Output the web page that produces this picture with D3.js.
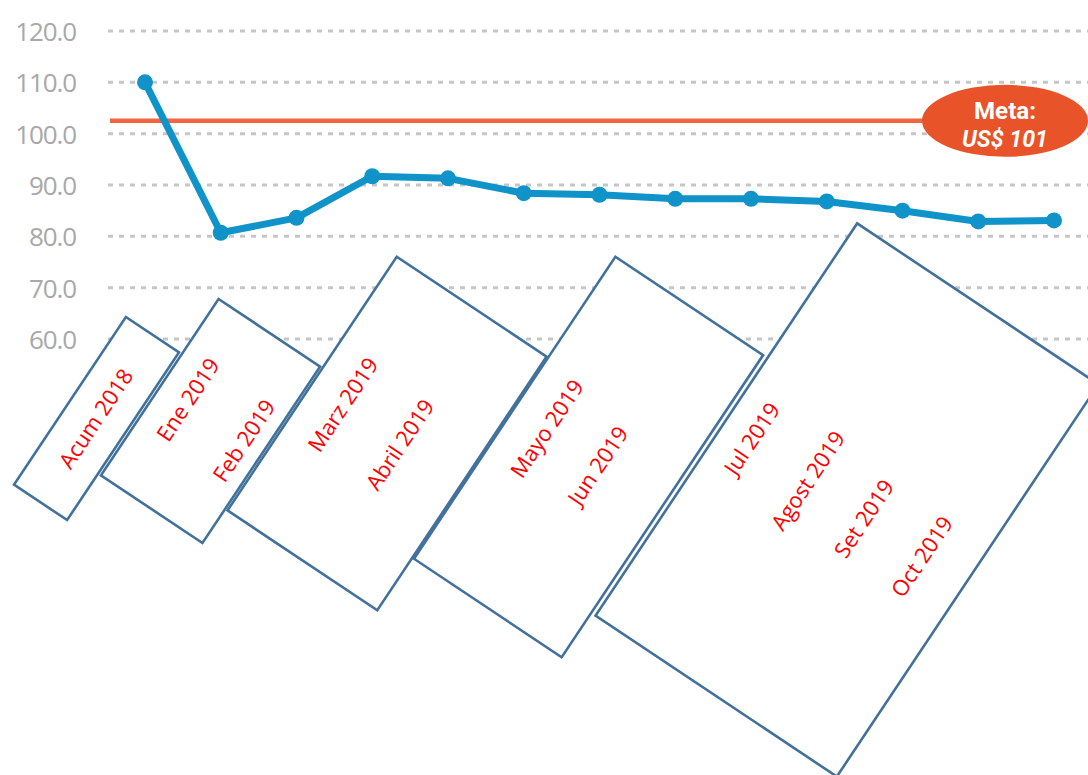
<!DOCTYPE html>
<html>
<head>
<meta charset="utf-8">
<script src="https://cdn.jsdelivr.net/npm/d3@7/dist/d3.min.js"></script>
<style>
  html, body { margin: 0; padding: 0; background: #fff; }
  svg { display: block; }
</style>
</head>
<body>
<svg id="chart" width="1088" height="775"></svg>
<script>
// ---------------- data ----------------
const periods = ["Acum 2018","Ene 2019","Feb 2019","Marz 2019","Abril 2019","Mayo 2019","Jun 2019",
                 "Jul 2019","Agost 2019","Set 2019","Oct 2019","Nov 2019","Dic 2019"];
const values  = [110.0, 80.7, 83.6, 91.7, 91.3, 88.4, 88.1, 87.3, 87.3, 86.8, 85.0, 82.9, 83.1];
const yTicks  = [60, 70, 80, 90, 100, 110, 120];
const metaValue = 102.5;
const metaLabel = ["Meta:", "US$ 101"];
// category labels grouped as they appear in the rotated text boxes
const boxGroups = [
  ["Acum 2018"],
  ["Ene 2019", "Feb 2019"],
  ["Marz 2019", "Abril 2019"],
  ["Mayo 2019", "Jun 2019"],
  ["Jul 2019", "Agost 2019", "Set 2019", "Oct 2019"]
];

// ---------------- layout ----------------
const W = 1088, H = 775;
const svg = d3.select("#chart");
const x = d3.scalePoint().domain(periods).range([145, 1054]);
const y = d3.scaleLinear().domain([60, 120]).range([339, 31]);
const gridX0 = 108, gridX1 = W;

// rotated box geometry (center, long side, short side)
const ANG = -56.3;
const boxLayout = [
  {cx: 96.5, cy: 418.5, L: 201.6, S: 63.8},
  {cx: 210.5, cy: 421, L: 212, S: 122},
  {cx: 387, cy: 433.5, L: 305, S: 180},
  {cx: 588.5, cy: 457, L: 363, S: 177.5},
  {cx: 847, cy: 500, L: 471.5, S: 290}
];
const labelPos = {
  "Acum 2018": [95, 418], "Ene 2019": [187, 399], "Feb 2019": [243, 440],
  "Marz 2019": [342, 404], "Abril 2019": [399, 444], "Mayo 2019": [546, 428],
  "Jun 2019": [597, 465], "Jul 2019": [751, 438], "Agost 2019": [807, 480],
  "Set 2019": [863, 518], "Oct 2019": [921, 556]
};

// ---------------- gridlines ----------------
svg.append("g").selectAll("line").data(yTicks).join("line")
  .attr("x1", gridX0).attr("x2", gridX1)
  .attr("y1", d => y(d)).attr("y2", d => y(d))
  .attr("stroke", "#c6c6c6").attr("stroke-width", 3)
  .attr("stroke-dasharray", "5,6");

// y tick labels
svg.append("g").selectAll("text").data(yTicks).join("text")
  .attr("x", 76).attr("y", d => y(d))
  .attr("text-anchor", "end").attr("dominant-baseline", "central")
  .attr("font-family", "'Open Sans', sans-serif").attr("font-size", 26)
  .attr("letter-spacing", -1.1)
  .attr("fill", "#a8a8a8")
  .text(d => d.toFixed(1));

// ---------------- rotated label boxes ----------------
const boxes = svg.append("g");
boxGroups.forEach((grp, i) => {
  const b = boxLayout[i];
  boxes.append("rect")
    .attr("x", -b.L / 2).attr("y", -b.S / 2)
    .attr("width", b.L).attr("height", b.S)
    .attr("transform", `translate(${b.cx},${b.cy}) rotate(${ANG})`)
    .attr("fill", "#fff").attr("stroke", "#41719c").attr("stroke-width", 2.6);
  grp.forEach(lbl => {
    const p = labelPos[lbl];
    boxes.append("text")
      .attr("transform", `translate(${p[0]},${p[1]}) rotate(${ANG})`)
      .attr("text-anchor", "middle").attr("dominant-baseline", "central")
      .attr("font-family", "'Open Sans', sans-serif").attr("font-size", 22)
      .attr("fill", "#ff0000")
      .text(lbl);
  });
});

// ---------------- meta line ----------------
svg.append("line")
  .attr("x1", 110).attr("x2", 1000)
  .attr("y1", y(metaValue)).attr("y2", y(metaValue))
  .attr("stroke", "#f0673f").attr("stroke-width", 4.5);

const ex = 1005, ey = y(metaValue);
svg.append("ellipse")
  .attr("cx", ex).attr("cy", ey).attr("rx", 83).attr("ry", 36)
  .attr("fill", "#e8532a");
svg.append("text")
  .attr("x", ex).attr("y", ey - 2)
  .attr("text-anchor", "middle")
  .attr("font-family", "'Roboto', sans-serif")
  .attr("font-weight", "bold").attr("font-size", 24)
  .attr("textLength", 62).attr("lengthAdjust", "spacingAndGlyphs")
  .attr("fill", "#fff").text(metaLabel[0]);
svg.append("text")
  .attr("x", ex).attr("y", ey + 26.5)
  .attr("text-anchor", "middle")
  .attr("font-family", "'Roboto', sans-serif")
  .attr("font-weight", "bold").attr("font-style", "italic").attr("font-size", 24)
  .attr("textLength", 86).attr("lengthAdjust", "spacingAndGlyphs")
  .attr("fill", "#fff").text(metaLabel[1]);

// ---------------- data line ----------------
const pts = periods.map((p, i) => ({p, v: values[i]}));
svg.append("path").datum(pts)
  .attr("fill", "none").attr("stroke", "#0f93c9").attr("stroke-width", 7)
  .attr("stroke-linejoin", "round")
  .attr("d", d3.line().x(d => x(d.p)).y(d => y(d.v)));
svg.append("g").selectAll("circle").data(pts).join("circle")
  .attr("cx", d => x(d.p)).attr("cy", d => y(d.v)).attr("r", 8)
  .attr("fill", "#0f93c9");
</script>
</body>
</html>
